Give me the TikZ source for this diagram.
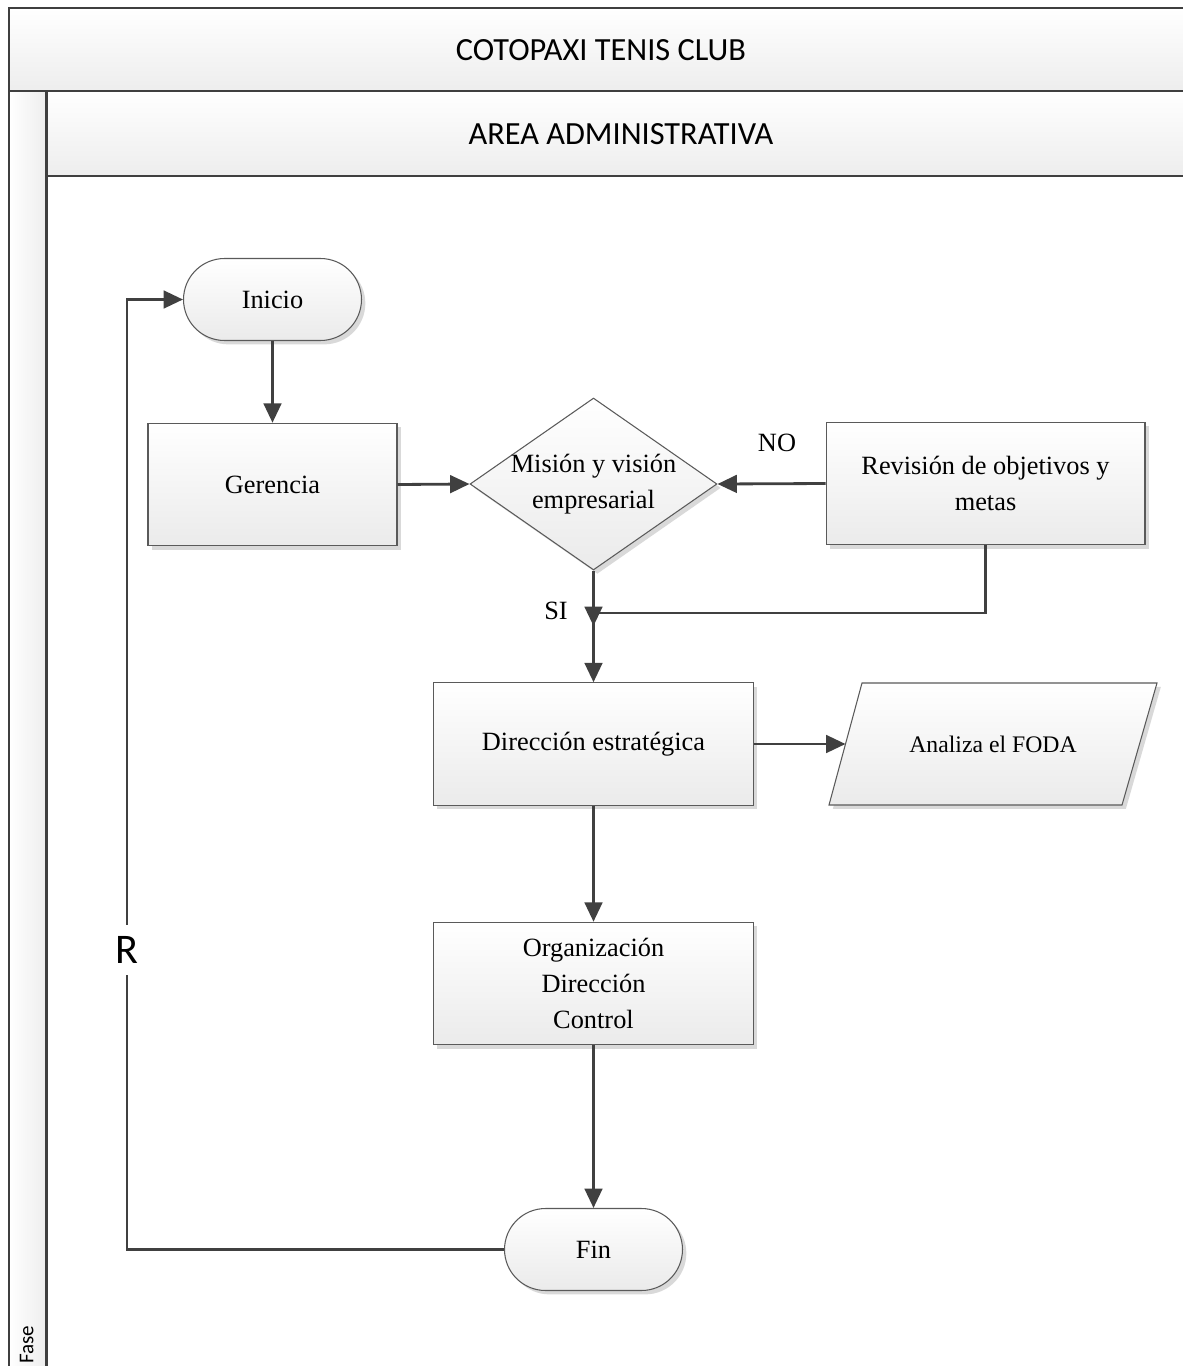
\documentclass[tikz,border=0pt]{standalone}
\usepackage{fontspec}
\setmainfont{Liberation Serif}
\newfontfamily\calib{Carlito}
\usetikzlibrary{arrows.meta,shapes.geometric,shadows}

\definecolor{lineink}{HTML}{404040}
\definecolor{edgeink}{HTML}{5A5A5A}
\definecolor{frameink}{HTML}{3F3F3F}

\tikzset{
  shapeface/.style={draw=edgeink, line width=0.6pt, top color=white, bottom color=black!8,
    drop shadow={shadow xshift=2.2pt, shadow yshift=-2.2pt, fill=black, opacity=0.15}},
  boxbase/.style={shapeface, font=\fontsize{15}{20.5}\selectfont, align=center, inner sep=0pt},
  termbox/.style={boxbase, rectangle, rounded corners=0.82cm, minimum width=3.56cm, minimum height=1.64cm},
  procbox/.style={boxbase, rectangle, minimum height=2.45cm},
  decbox/.style={boxbase, diamond, minimum width=4.94cm, minimum height=3.44cm},
  plaintext/.style={font=\fontsize{15}{20.5}\selectfont, align=center, inner sep=0pt},
  conn/.style={draw=lineink, line width=1.6pt},
  arrowconn/.style={conn, -{Triangle[length=11pt,width=10pt]}},
  flowlabel/.style={font=\fontsize{15}{18}\selectfont, inner sep=0pt},
  headtext/.style={font=\calib\fontsize{18.4}{22}\selectfont, inner sep=0pt},
  framerule/.style={draw=frameink, line width=1.5pt}
}

\begin{document}
\begin{tikzpicture}[x=0.02cm, y=-0.02cm]
\path[use as bounding box] (0,0) rectangle (1183,1366);

% pool and lane frame
\begin{scope}
  \clip (0,0) rectangle (1183,1366);
  \fill[white] (0,0) rectangle (1183,1366);
  \shade[top color=white, bottom color=black!7] (9,8) rectangle (1200,91);
  \shade[top color=white, bottom color=black!7] (46.7,91) rectangle (1200,176);
  \shade[left color=white, right color=black!7] (9,91) rectangle (46.7,1400);
  \draw[framerule] (1200,8) -- (9,8) -- (9,1400);
  \draw[framerule] (9,91) -- (1200,91);
  \draw[framerule] (46.7,91) -- (46.7,1400);
  \draw[framerule] (46.7,176) -- (1200,176);
\end{scope}

\node[headtext] (pool) at (601,50) {COTOPAXI TENIS CLUB};
\node[headtext] (lane) at (621,134) {AREA ADMINISTRATIVA};
\node[font=\calib\fontsize{12}{14}\selectfont, inner sep=0pt, rotate=90, anchor=base west] (phase) at (33.3,1364) {Fase};

% flow nodes
\node[termbox] (inicio) at (272.5,299.5) {Inicio};
\node[procbox, minimum width=4.98cm] (gerencia) at (272.5,484.5) {Gerencia};
\node[decbox] (mision) at (593.5,484) {};
\node[plaintext] (misiontext) at (mision.center) {Misión y visión\\empresarial};
\node[procbox, minimum width=6.38cm] (revision) at (985.5,483.5) {Revisión de objetivos y\\metas};
\node[procbox, minimum width=6.4cm] (direccion) at (593.5,744) {Dirección estratégica};

% input/output parallelogram
\path[shapeface] (829,805) -- (862,683) -- (1157,683) -- (1122,805) -- cycle;
\node[plaintext, font=\fontsize{13.5}{16}\selectfont] (foda) at (993,744) {Analiza el FODA};
\coordinate (fodain) at (845.5,744);

\node[procbox, minimum width=6.4cm] (organiza) at (593.5,983.5) {Organización\\Dirección\\Control};
\node[termbox] (fin) at (593.5,1249.5) {Fin};

\node[flowlabel] (no) at (777,443) {NO};
\node[flowlabel] (si) at (556,611) {SI};

% connectors
\coordinate (join) at (593.5,613);
\coordinate (jointip) at (593.5,626);
\coordinate (loopB) at (127,1249.5);
\coordinate (loopT) at (127,299.5);

\draw[arrowconn] (inicio.south) -- (gerencia.north);
\draw[arrowconn] (gerencia.east) -- (mision.west);
\draw[arrowconn] (revision.west) -- (mision.east);
\draw[arrowconn] (mision.south) -- (jointip);
\draw[arrowconn] (revision.south) |- (join) -- (direccion.north);
\draw[arrowconn] (direccion.east) -- (fodain);
\draw[arrowconn] (direccion.south) -- (organiza.north);
\draw[arrowconn] (organiza.south) -- (fin.north);
\draw[arrowconn] (fin.west) -- (loopB)
  -- node[pos=0.315, fill=white, inner sep=0pt, minimum height=1cm, minimum width=0.5cm,
          font=\calib\fontsize{24}{28}\selectfont] (rlabel) {R} (loopT)
  -- (inicio.west);
\end{tikzpicture}
\end{document}
